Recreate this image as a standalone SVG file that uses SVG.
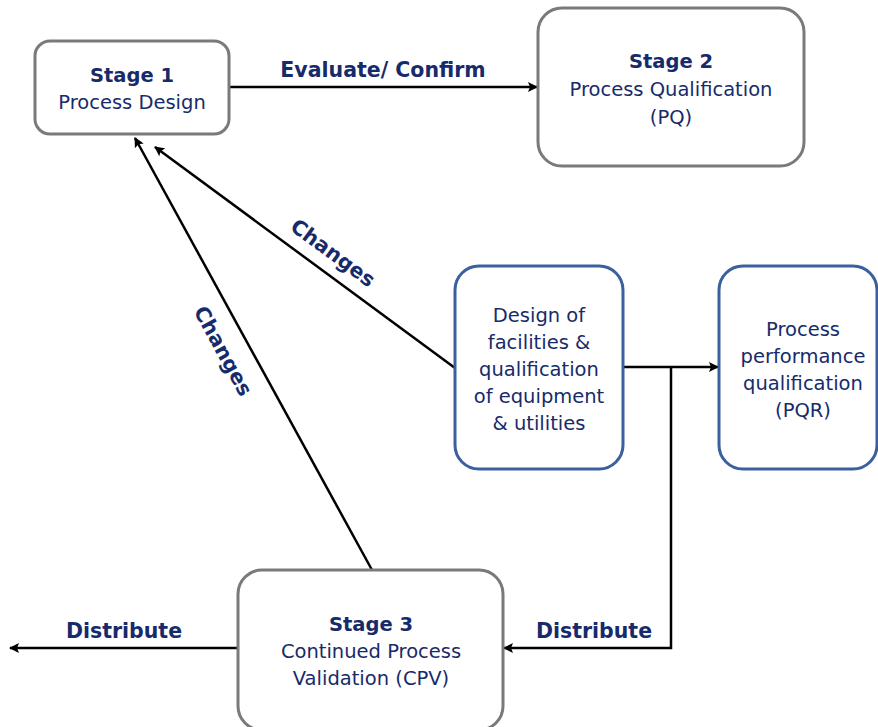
<svg xmlns="http://www.w3.org/2000/svg" width="878" height="727" viewBox="0 0 878 727">
<defs>
<marker id="ah" viewBox="0 0 10 10" refX="9" refY="5" markerWidth="11" markerHeight="10" markerUnits="userSpaceOnUse" orient="auto">
<path d="M0,0 L10,5 L0,10 L2,5 Z" fill="#000"/>
</marker>
</defs>
<style>
.gray{fill:#fff;stroke:#7a7a7a;stroke-width:3}
.blue{fill:#fff;stroke:#3c5f9e;stroke-width:3}
.t{font-family:"DejaVu Sans",Verdana,sans-serif;font-size:19.5px;fill:#172b6a;text-anchor:middle}
.b{font-weight:bold}
.lbl{font-family:"DejaVu Sans",Verdana,sans-serif;font-size:20.5px;font-weight:bold;fill:#172b6a;text-anchor:middle}
.c{fill:none;stroke:#000;stroke-width:2.5;marker-end:url(#ah)}
</style>
<rect width="878" height="727" fill="#fff"/>
<g id="connectors">
<line class="c" x1="229" y1="87" x2="537" y2="87"/>
<line class="c" x1="455" y1="368" x2="155" y2="147"/>
<line class="c" x1="372" y1="570" x2="135" y2="138"/>
<line class="c" x1="623" y1="367" x2="718" y2="367"/>
<polyline class="c" points="671,367 671,648 504,648"/>
<line class="c" x1="238" y1="648" x2="10" y2="648"/>
<text class="lbl" x="383" y="77">Evaluate/ Confirm</text>
<text class="lbl" transform="translate(321,269) rotate(36.4)" x="0" y="-13">Changes</text>
<text class="lbl" transform="translate(245,339) rotate(61.25)" x="0" y="32">Changes</text>
<text class="lbl" x="594" y="638">Distribute</text>
<text class="lbl" x="124" y="638">Distribute</text>
</g>
<g id="stage1">
<rect class="gray" x="35" y="41" width="194" height="93" rx="15"/>
<text class="t b" x="132" y="82">Stage 1</text>
<text class="t" x="132" y="109">Process Design</text>
</g>
<g id="stage2">
<rect class="gray" x="538" y="8" width="266" height="158" rx="24"/>
<text class="t b" x="671" y="68">Stage 2</text>
<text class="t" x="671" y="96">Process Qualification</text>
<text class="t" x="671" y="124">(PQ)</text>
</g>
<g id="design">
<rect class="blue" x="455" y="266" width="168" height="203" rx="24"/>
<text class="t" x="539" y="322">Design of</text>
<text class="t" x="539" y="349">facilities &amp;</text>
<text class="t" x="539" y="376">qualification</text>
<text class="t" x="539" y="403">of equipment</text>
<text class="t" x="539" y="430">&amp; utilities</text>
</g>
<g id="pqr">
<rect class="blue" x="719" y="266" width="158" height="203" rx="24"/>
<text class="t" x="803" y="336">Process</text>
<text class="t" x="803" y="363">performance</text>
<text class="t" x="803" y="390">qualification</text>
<text class="t" x="803" y="417">(PQR)</text>
</g>
<g id="stage3">
<rect class="gray" x="238" y="570" width="265" height="160" rx="24"/>
<text class="t b" x="371" y="631">Stage 3</text>
<text class="t" x="371" y="658">Continued Process</text>
<text class="t" x="371" y="685">Validation (CPV)</text>
</g>
</svg>
